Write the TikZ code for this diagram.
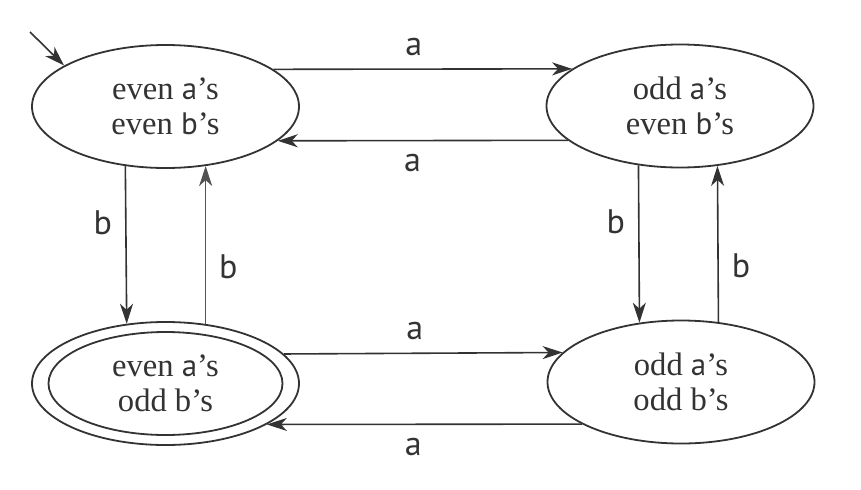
\documentclass[tikz,border=0pt]{standalone}
\usepackage{fontspec}
\setmainfont{Liberation Serif}
\newfontfamily\labfont{PT Sans}
\usepackage{tikz}
\usetikzlibrary{arrows.meta,shapes.geometric}
\definecolor{ink}{HTML}{333333}
\newcommand{\sym}[1]{{\labfont\fontsize{15.5}{17.5}\selectfont #1}}
\tikzset{
  statebox/.style={draw=ink, ellipse, line width=0.9pt, minimum width=133.5pt, minimum height=61.5pt,
    inner sep=0pt, text=ink, align=center, font=\fontsize{16.3}{17.5}\selectfont},
  ring/.style={draw=ink, line width=0.9pt},
  tr/.style={draw=ink, line width=0.8pt, -{Stealth[length=10pt, width=6.5pt, inset=3pt]}},
  thinline/.style={line width=0.55pt, draw=ink!85},
  lab/.style={text=ink, font=\labfont\fontsize{17}{20}\selectfont, inner sep=6.5pt},
}
\begin{document}
\begin{tikzpicture}[x=0.5pt, y=0.5pt]
\useasboundingbox (0,0) rectangle (861,489);
% states
\node[statebox] (q0) at (165.5,382.5) {even \sym{a}’s\\even \sym{b}’s};
\node[statebox] (q1) at (680,383) {odd \sym{a}’s\\even \sym{b}’s};
\node[statebox] (q2) at (165.5,105.5) {even \sym{a}’s\\odd b’s};
\node[statebox] (q3) at (681,107) {odd \sym{a}’s\\odd b’s};
\draw[ring] (q2.center) ellipse [x radius=117, y radius=51.5];
% start
\coordinate (start) at (30,457);
\draw[tr] (start) -- (q0.158);
% a transitions
\draw[tr] (q0.19) -- node[lab, above, pos=0.47] {a} (q1.161);
\draw[tr] (q1.197) -- node[lab, below, pos=0.535] {a} (q0.343);
\draw[tr] (q2.14.6) -- node[lab, above, pos=0.47] {a} (q3.166.4);
\draw[tr] (q3.203) -- node[lab, below, pos=0.535] {a} (q2.338);
% b transitions
\draw[tr] (q0.236.8) -- node[lab, left, pos=0.36] {b} (q2.123.2);
\draw[tr, thinline] (q2.56) -- node[lab, right, pos=0.36] {b} (q0.304);
\draw[tr] (q1.235) -- node[lab, left, pos=0.36] {b} (q3.125);
\draw[tr] (q3.58) -- node[lab, right, pos=0.36] {b} (q1.302);
\end{tikzpicture}
\end{document}
